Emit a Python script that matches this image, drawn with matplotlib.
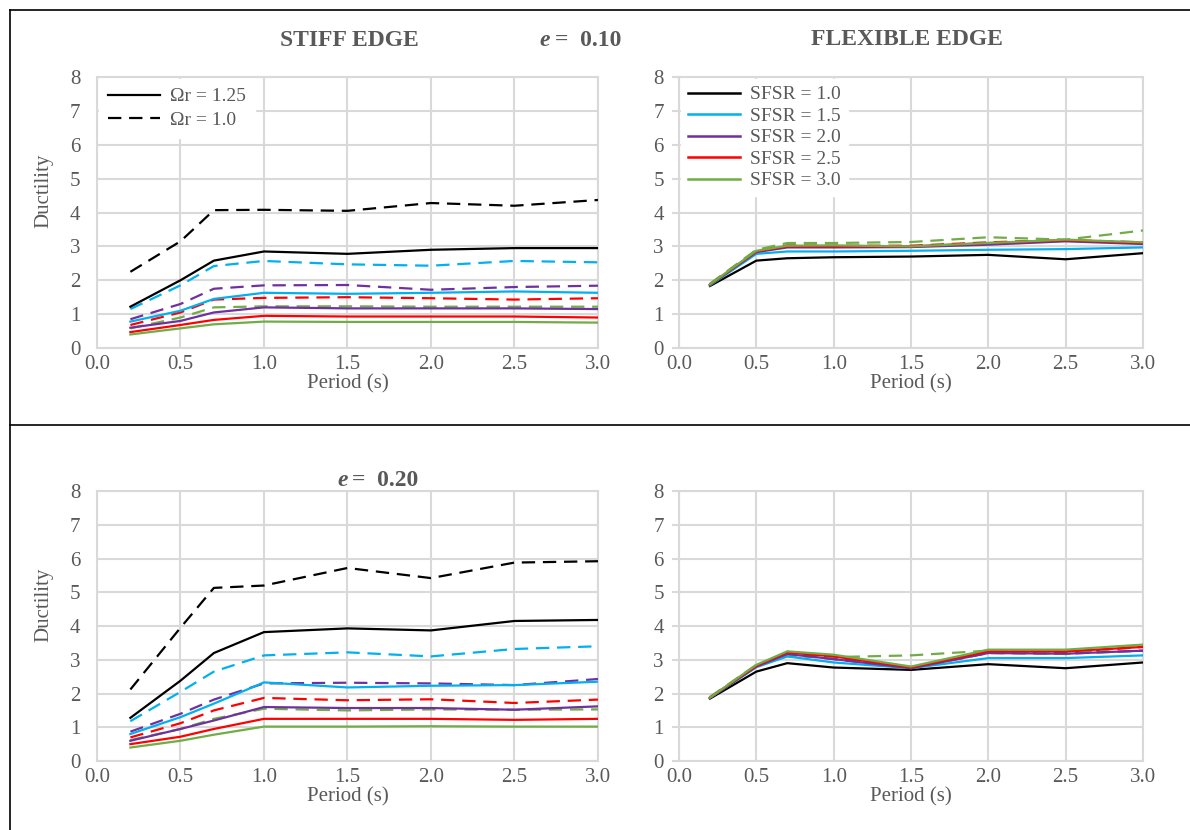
import matplotlib
matplotlib.use("Agg")
import matplotlib.pyplot as plt
from matplotlib.lines import Line2D

plt.rcParams['font.family'] = ['Liberation Serif', 'DejaVu Serif']

# periods (s)
period = [0.2, 0.5, 0.7, 1.0, 1.5, 2.0, 2.5, 3.0]

colors = ['#000000', '#00B0F0', '#7030A0', '#FF0000', '#70AD47']
sfsr_labels = ['SFSR = 1.0', 'SFSR = 1.5', 'SFSR = 2.0', 'SFSR = 2.5', 'SFSR = 3.0']

# e = 0.10, stiff edge: solid = Omega_r 1.25, dashed = Omega_r 1.0 (order: SFSR 1.0 .. 3.0)
stiff10_solid = [
    [1.22, 2.00, 2.58, 2.85, 2.78, 2.90, 2.95, 2.95],
    [0.78, 1.10, 1.45, 1.63, 1.60, 1.63, 1.67, 1.63],
    [0.60, 0.80, 1.05, 1.20, 1.17, 1.17, 1.17, 1.15],
    [0.47, 0.68, 0.83, 0.95, 0.93, 0.93, 0.93, 0.90],
    [0.40, 0.58, 0.70, 0.78, 0.77, 0.77, 0.77, 0.75],
]
stiff10_dash = [
    [2.25, 3.15, 4.07, 4.08, 4.05, 4.28, 4.20, 4.37],
    [1.15, 1.85, 2.42, 2.57, 2.47, 2.43, 2.57, 2.53],
    [0.85, 1.30, 1.75, 1.85, 1.86, 1.72, 1.80, 1.84],
    [0.68, 1.05, 1.43, 1.48, 1.50, 1.47, 1.43, 1.47],
    [0.58, 0.90, 1.20, 1.23, 1.23, 1.22, 1.22, 1.22],
]

# e = 0.10, flexible edge
flex10_solid = [
    [1.83, 2.58, 2.65, 2.68, 2.70, 2.75, 2.62, 2.80],
    [1.85, 2.78, 2.85, 2.85, 2.87, 2.90, 2.92, 2.97],
    [1.87, 2.83, 2.97, 2.97, 2.98, 3.05, 3.15, 3.07],
    [1.87, 2.85, 3.00, 3.00, 3.00, 3.10, 3.18, 3.10],
    [1.88, 2.87, 3.02, 3.03, 3.00, 3.10, 3.20, 3.12],
]
flex10_dash = [
    None,
    None,
    None,
    [1.88, 2.88, 3.03, 3.02, 3.02, 3.12, 3.19, 3.12],
    [1.90, 2.90, 3.10, 3.10, 3.13, 3.27, 3.20, 3.47],
]

# e = 0.20, stiff edge
stiff20_solid = [
    [1.28, 2.38, 3.20, 3.82, 3.93, 3.87, 4.15, 4.18],
    [0.80, 1.30, 1.70, 2.33, 2.18, 2.23, 2.25, 2.35],
    [0.60, 0.95, 1.20, 1.60, 1.57, 1.57, 1.52, 1.62],
    [0.50, 0.72, 0.95, 1.25, 1.25, 1.25, 1.22, 1.25],
    [0.40, 0.60, 0.78, 1.02, 1.02, 1.03, 1.02, 1.02],
]
stiff20_dash = [
    [2.12, 3.95, 5.13, 5.20, 5.72, 5.42, 5.88, 5.92],
    [1.18, 2.05, 2.65, 3.13, 3.22, 3.10, 3.32, 3.40],
    [0.87, 1.40, 1.82, 2.30, 2.32, 2.30, 2.25, 2.43],
    [0.70, 1.12, 1.50, 1.87, 1.80, 1.83, 1.72, 1.82],
    [0.62, 0.95, 1.25, 1.55, 1.50, 1.53, 1.52, 1.53],
]

# e = 0.20, flexible edge
flex20_solid = [
    [1.85, 2.65, 2.90, 2.77, 2.70, 2.87, 2.75, 2.92],
    [1.87, 2.78, 3.10, 2.92, 2.75, 3.05, 3.05, 3.13],
    [1.87, 2.80, 3.17, 3.02, 2.75, 3.20, 3.18, 3.27],
    [1.88, 2.82, 3.22, 3.10, 2.77, 3.25, 3.25, 3.38],
    [1.88, 2.85, 3.25, 3.15, 2.80, 3.30, 3.30, 3.45],
]
flex20_dash = [
    None,
    None,
    [1.87, 2.80, 3.17, 3.02, 2.75, 3.20, 3.18, 3.27],
    [1.88, 2.82, 3.20, 3.05, 2.77, 3.25, 3.22, 3.38],
    [1.90, 2.85, 3.10, 3.08, 3.13, 3.27, 3.17, 3.42],
]

txt = '#595959'
grid = '#D9D9D9'
dash = (6, 3.5)

fig = plt.figure(figsize=(11.9, 8.3), dpi=100)

boxes = {
    'tl': [0.0815, 0.5807, 0.4210, 0.3265],
    'tr': [0.5706, 0.5807, 0.3899, 0.3265],
    'bl': [0.0815, 0.0831, 0.4210, 0.3253],
    'br': [0.5706, 0.0831, 0.3899, 0.3253],
}
panels = [
    ('tl', stiff10_solid, stiff10_dash, True),
    ('tr', flex10_solid, flex10_dash, False),
    ('bl', stiff20_solid, stiff20_dash, True),
    ('br', flex20_solid, flex20_dash, False),
]

axes = {}
for key, solid, dashed, left in panels:
    ax = fig.add_axes(boxes[key])
    axes[key] = ax
    for c, d in zip(colors, dashed):
        if d is not None:
            ax.plot(period, d, color=c, lw=1.6, ls=(0, dash), zorder=3)
    for c, s in zip(colors, solid):
        ax.plot(period, s, color=c, lw=1.6, zorder=4)
    ax.set_xlim(0, 3)
    ax.set_ylim(0, 8)
    ax.set_xticks([0, 0.5, 1, 1.5, 2, 2.5, 3])
    ax.set_xticklabels(['0.0', '0.5', '1.0', '1.5', '2.0', '2.5', '3.0'])
    ax.set_yticks(range(9))
    ax.grid(True, color=grid, lw=1.5)
    ax.set_axisbelow(True)
    for sp in ax.spines.values():
        sp.set_color(grid)
        sp.set_linewidth(1.5)
    ax.tick_params(axis='x', length=0, pad=5, labelsize=15, labelcolor=txt)
    if left:
        ax.tick_params(axis='y', length=0, pad=12, labelsize=15, labelcolor=txt)
        ax.set_ylabel('Ductility', fontsize=15, color=txt)
        ax.yaxis.set_label_coords(-0.088, 0.58)
    else:
        ax.tick_params(axis='y', length=5, width=1.5, color=grid, pad=6,
                       labelsize=15, labelcolor=txt)
    ax.set_xlabel('Period (s)', fontsize=15, color=txt, labelpad=0)

# legends
h_om = [Line2D([], [], color='black', lw=1.6),
        Line2D([], [], color='black', lw=1.6, ls=(0, dash))]
leg = axes['tl'].legend(h_om, ['\u03a9r = 1.25', '\u03a9r = 1.0'], loc='upper left',
                        fontsize=14, frameon=True, fancybox=False, framealpha=1,
                        edgecolor='white', borderaxespad=0.1, handlelength=2.7,
                        handletextpad=0.5, labelspacing=0.32, borderpad=0.45)
for t in leg.get_texts():
    t.set_color(txt)
leg.set_zorder(5)

h_sf = [Line2D([], [], color=c, lw=1.8) for c in colors]
leg2 = axes['tr'].legend(h_sf, sfsr_labels, loc='upper left', fontsize=14,
                         frameon=True, fancybox=False, framealpha=1,
                         edgecolor='white', borderaxespad=0.1, handlelength=2.7,
                         handletextpad=0.5, labelspacing=0.2, borderpad=0.35)
for t in leg2.get_texts():
    t.set_color(txt)
leg2.set_zorder(5)

# titles
fig.text(0.294, 0.951, 'STIFF EDGE', fontsize=17, fontweight='bold', color=txt,
         ha='center', va='center')
fig.text(0.462, 0.951, 'e', fontsize=17, fontweight='bold', style='italic',
         color=txt, ha='right', va='center')
fig.text(0.466, 0.951, '=  0.10', fontsize=17, fontweight='bold', color=txt,
         ha='left', va='center')
fig.text(0.762, 0.953, 'FLEXIBLE EDGE', fontsize=17, fontweight='bold', color=txt,
         ha='center', va='center')
fig.text(0.292, 0.421, 'e', fontsize=17, fontweight='bold', style='italic',
         color=txt, ha='right', va='center')
fig.text(0.296, 0.421, '=  0.20', fontsize=17, fontweight='bold', color=txt,
         ha='left', va='center')

# frame lines
fig.add_artist(Line2D([0.0084, 0.0084], [0.0, 0.988], color='black', lw=1.2))
fig.add_artist(Line2D([0.0084, 1.0], [0.988, 0.988], color='black', lw=1.2))
fig.add_artist(Line2D([0.0084, 1.0], [0.488, 0.488], color='black', lw=1.2))

fig.savefig('out.png', dpi=100)
